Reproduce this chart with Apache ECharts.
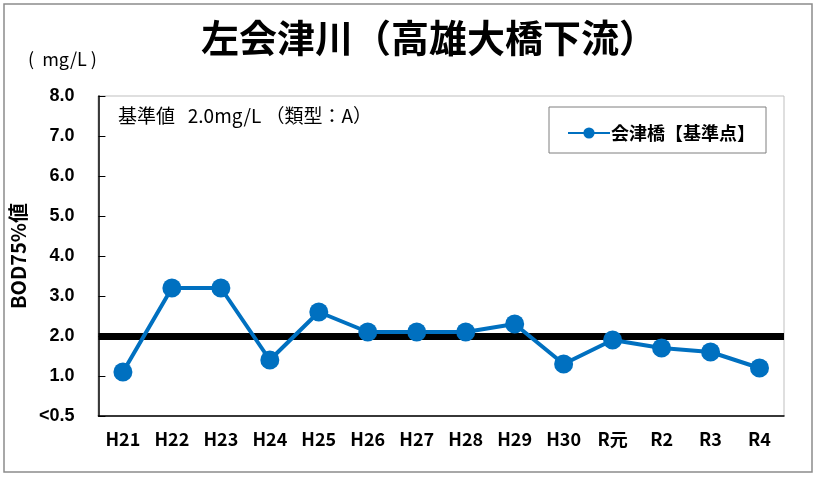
<!DOCTYPE html>
<html><head><meta charset="utf-8">
<script src="https://cdn.jsdelivr.net/npm/echarts@6/dist/echarts.min.js"></script>
<style>html,body{margin:0;padding:0;background:#fff}#c{width:820px;height:482px}</style>
</head><body><div id="c"></div>
<script>
const categories = ['H21','H22','H23','H24','H25','H26','H27','H28','H29','H30','R元','R2','R3','R4'];
const values = [1.1,3.2,3.2,1.4,2.6,2.1,2.1,2.1,2.3,1.3,1.9,1.7,1.6,1.2];
const standardValue = 2.0;
const seriesName = '会津橋【基準点】';
const titleText = '左会津川（高雄大橋下流）';
const yTickLabels = {0:'<0.5',1:'1.0',2:'2.0',3:'3.0',4:'4.0',5:'5.0',6:'6.0',7:'7.0',8:'8.0'};

const FONT = '"Noto Sans CJK JP", "Noto Sans", sans-serif';
const chart = echarts.init(document.getElementById('c'), null, {renderer:'canvas'});
chart.setOption({
  animation:false,
  backgroundColor:'#fff',
  title:{text:titleText, left:196, top:14,
    textStyle:{fontFamily:FONT, fontSize:38, fontWeight:'bold', color:'#000'}},
  graphic:[
    {type:'rect', shape:{x:4,y:4,width:808,height:468}, style:{fill:null, stroke:'#8c8c8c', lineWidth:1.5}, z:-1},
    {type:'rect', shape:{x:98,y:96,width:686,height:320}, style:{fill:null, stroke:'#bfbfbf', lineWidth:1}, z:0},
    {type:'text', left:28, top:50, style:{text:'(  mg/L )', font:'18px '+FONT, fill:'#000'}},
    {type:'text', left:118, top:106, style:{text:'基準値   2.0mg/L （類型：A）', font:'19px '+FONT, fill:'#000'}},
    {type:'rect', shape:{x:549,y:107,width:217,height:46}, style:{fill:'#fff', stroke:'#7f7f7f', lineWidth:1}, z:5}
  ],
  legend:{show:true, left:562, top:119, itemWidth:42, itemHeight:14, itemGap:2, z:10,
    textStyle:{fontFamily:FONT, fontSize:18, fontWeight:'bold', color:'#000', padding:[0,0,0,-4]}},
  grid:{left:98, right:36, top:96, bottom:66},
  xAxis:{type:'category', data:categories, boundaryGap:true,
    axisLine:{lineStyle:{color:'#000', width:1.5}},
    axisTick:{inside:true, length:7, lineStyle:{color:'#000'}},
    axisLabel:{fontFamily:FONT, fontSize:18, fontWeight:'bold', color:'#000', margin:14}},
  yAxis:{type:'value', min:0, max:8, interval:1,
    name:'BOD75%値', nameLocation:'middle', nameGap:68, nameRotate:90,
    nameTextStyle:{fontFamily:FONT, fontSize:20, fontWeight:'bold', color:'#000'},
    axisLine:{show:true, lineStyle:{color:'#000', width:1.5}},
    axisTick:{show:true, inside:true, length:7, lineStyle:{color:'#000'}},
    splitLine:{show:false},
    axisLabel:{fontFamily:'"Liberation Sans", Arial, sans-serif', fontSize:18, fontWeight:'bold', color:'#000', margin:24,
      formatter:v=>yTickLabels[v]}},
  series:[{
    name:seriesName, type:'line', data:values,
    symbol:'circle', symbolSize:19,
    itemStyle:{color:'#0070C0'},
    lineStyle:{color:'#0070C0', width:4},
    z:3,
    markLine:{silent:true, symbol:'none', label:{show:false},
      lineStyle:{color:'#000', width:7, type:'solid'},
      data:[{yAxis:standardValue}], z:2}
  }]
});
</script></body></html>
